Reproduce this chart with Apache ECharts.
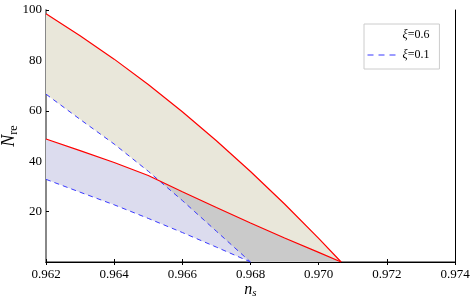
<!DOCTYPE html>
<html><head><meta charset="utf-8">
<script src="https://cdn.jsdelivr.net/npm/echarts@6/dist/echarts.min.js"></script>
<style>html,body{margin:0;padding:0;background:#fff}#c{width:471px;height:304px}</style>
</head><body><div id="c"></div>
<script>
const xRed = [0.962, 0.963, 0.964, 0.965, 0.966, 0.967, 0.968, 0.969, 0.970, 0.97066];
const redUpper = [98.5, 89.8, 80.5, 70.4, 59.6, 48.1, 35.9, 23.0, 9.4, 0];
const redLower = [48.8, 44.2, 39.5, 34.3, 27.9, 21.6, 15.5, 9.5, 3.8, 0];
const xBlue = [0.962, 0.963, 0.964, 0.965, 0.966, 0.967, 0.968];
const blueUpper = [66.6, 56.6, 46.8, 36.0, 24.4, 12.2, 0];
const blueLower = [32.8, 27.7, 22.7, 17.3, 11.7, 5.9, 0];
const xTicks = [0.962, 0.964, 0.966, 0.968, 0.970, 0.972, 0.974];
const yTicks = [20, 40, 60, 80, 100];
const legendNames = ['ξ=0.6', 'ξ=0.1'];

const zip = (xs, ys) => xs.map((x, i) => [x, ys[i]]);
const xBlueEnd = xBlue[xBlue.length - 1];

const beigePoly = zip(xRed, redUpper).concat([[xBlueEnd, 0]], zip(xBlue, blueUpper).reverse().slice(1));
const lavPoly = zip(xRed, redLower).concat([[xBlueEnd, 0]], zip(xBlue, blueLower).reverse().slice(1));
function interp(xs, ys, x) {
  if (x >= xs[xs.length - 1]) return ys[ys.length - 1];
  for (let i = 0; i < xs.length - 1; i++) {
    if (x >= xs[i] && x <= xs[i + 1]) {
      const t = (x - xs[i]) / (xs[i + 1] - xs[i]);
      return ys[i] + t * (ys[i + 1] - ys[i]);
    }
  }
  return ys[0];
}
let xi = xBlue[0], yi = 0;
for (let i = 0; i < xBlue.length - 1; i++) {
  const d0 = interp(xRed, redLower, xBlue[i]) - blueUpper[i];
  const d1 = interp(xRed, redLower, xBlue[i + 1]) - blueUpper[i + 1];
  if (d0 <= 0 && d1 > 0) {
    let a = xBlue[i], b = xBlue[i + 1];
    for (let k = 0; k < 40; k++) {
      const m = (a + b) / 2;
      const dm = interp(xRed, redLower, m) - interp(xBlue, blueUpper, m);
      if (dm > 0) b = m; else a = m;
    }
    xi = (a + b) / 2; yi = interp(xBlue, blueUpper, xi);
    break;
  }
}
const grayPoly = [[xi, yi]]
  .concat(zip(xRed, redLower).filter(p => p[0] > xi))
  .concat([[xBlueEnd, 0]])
  .concat(zip(xBlue, blueUpper).filter(p => p[0] > xi && p[0] < xBlueEnd).reverse());

function polySeries(pts, color) {
  return {
    type: 'custom', coordinateSystem: 'cartesian2d', silent: true, z: 1,
    data: [[pts[0][0], pts[0][1]]],
    renderItem: function (params, api) {
      return { type: 'polygon', shape: { points: pts.map(p => api.coord(p)) }, style: { fill: color } };
    }
  };
}

const chart = echarts.init(document.getElementById('c'), null, { renderer: 'canvas' });
const serif = "'Liberation Serif', 'Times New Roman', Times, serif";
chart.setOption({
  animation: false,
  backgroundColor: '#fff',
  grid: { left: 46, right: 16, top: 10, bottom: 42, containLabel: false, outerBoundsMode: 'none' },
  legend: {
    orient: 'vertical', left: 364, top: 24,
    padding: [5, 10, 8, 3], itemGap: 8, itemWidth: 30, itemHeight: 12,
    backgroundColor: '#fff', borderColor: '#cccccc', borderWidth: 1, borderRadius: 0,
    data: [
      { name: legendNames[0], icon: 'none', itemStyle: { opacity: 0 }, lineStyle: { opacity: 0 } },
      { name: legendNames[1], itemStyle: { opacity: 0 }, lineStyle: { color: '#3838ff', width: 1, type: [6, 5] } }
    ],
    formatter: function (n) { return '{i|ξ}' + n.slice(1); },
    textStyle: { fontFamily: serif, fontSize: 12, color: '#000',
      rich: { i: { fontFamily: serif, fontStyle: 'italic', fontSize: 12, color: '#000' } } }
  },
  xAxis: [{
    type: 'value', min: 0.962, max: 0.974, interval: 0.002,
    name: '{i|n}{s|s}', nameLocation: 'middle', nameGap: 18, nameMoveOverlap: false,
    nameTextStyle: { rich: {
      i: { fontFamily: serif, fontStyle: 'italic', fontSize: 16, color: '#000' },
      s: { fontFamily: serif, fontStyle: 'italic', fontSize: 11, color: '#000', padding: [8, 0, 0, 0] } } },
    axisLine: { onZero: false, lineStyle: { color: '#888', width: 2 } },
    axisTick: { inside: true, length: 3, lineStyle: { color: '#000', width: 1 } },
    axisLabel: { fontFamily: serif, fontSize: 13, color: '#000', margin: 6,
      formatter: v => xTicks.reduce((b, t) => Math.abs(t - v) < Math.abs(b - v) ? t : b).toFixed(3) },
    splitLine: { show: false }
  }, {
    type: 'value', position: 'top', min: 0.962, max: 0.974, interval: 0.002,
    axisLine: { lineStyle: { color: '#000', width: 1 } },
    axisTick: { inside: true, length: 3, lineStyle: { color: '#000' } },
    axisLabel: { show: false }, splitLine: { show: false }
  }],
  yAxis: [{
    type: 'value', min: 0, max: 100, interval: 20,
    name: '{i|N}{s|re}', nameLocation: 'middle', nameGap: 26, nameRotate: 90, nameMoveOverlap: false,
    nameTextStyle: { rich: {
      i: { fontFamily: serif, fontStyle: 'italic', fontSize: 18, color: '#000' },
      s: { fontFamily: serif, fontSize: 12, color: '#000', padding: [9, 0, 0, 0] } } },
    axisLine: { onZero: false, lineStyle: { color: '#888', width: 2 } },
    axisTick: { inside: true, length: 3, lineStyle: { color: '#000' } },
    axisLabel: { fontFamily: serif, fontSize: 13, color: '#000', margin: 4, showMinLabel: false,
      formatter: v => yTicks.indexOf(Math.round(v)) >= 0 ? String(Math.round(v)) : '' },
    splitLine: { show: false }
  }, {
    type: 'value', position: 'right', min: 0, max: 100, interval: 20,
    axisLine: { show: true, lineStyle: { color: '#000', width: 1 } },
    axisTick: { show: false }, axisLabel: { show: false }, splitLine: { show: false }
  }],
  series: [
    polySeries(beigePoly, '#e9e7da'),
    polySeries(lavPoly, '#dcdcee'),
    polySeries(grayPoly, '#cacaca'),
    { name: legendNames[0], type: 'line', data: zip(xRed, redUpper), symbol: 'none', z: 5,
      lineStyle: { color: '#ff0000', width: 1.2 }, itemStyle: { color: '#ff0000' } },
    { name: 'redLower', type: 'line', data: zip(xRed, redLower), symbol: 'none', z: 5,
      lineStyle: { color: '#ff0000', width: 1.2 }, itemStyle: { color: '#ff0000' } },
    { name: legendNames[1], type: 'line', data: zip(xBlue, blueUpper), symbol: 'none', z: 4,
      lineStyle: { color: '#3838ff', width: 1, type: [5, 4] }, itemStyle: { color: '#3838ff' } },
    { name: 'blueLower', type: 'line', data: zip(xBlue, blueLower), symbol: 'none', z: 4,
      lineStyle: { color: '#3838ff', width: 1, type: [5, 4] }, itemStyle: { color: '#3838ff' } }
  ]
});
</script>
</body></html>
